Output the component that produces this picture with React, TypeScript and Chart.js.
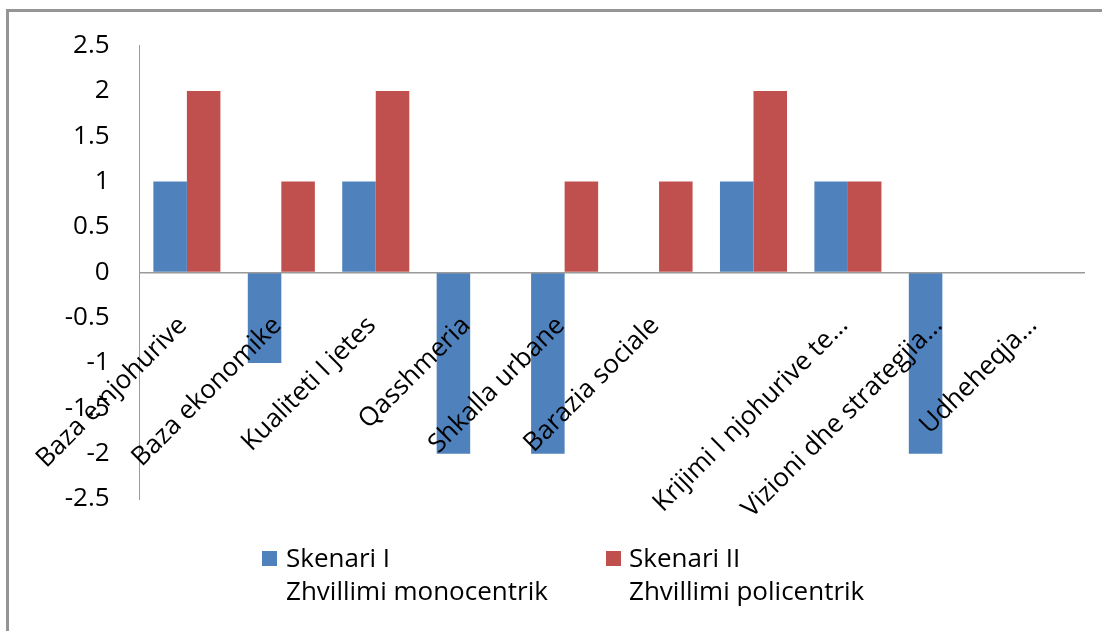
import React, { useEffect, useRef } from 'react';
import { Chart, registerables } from 'chart.js';

Chart.register(...registerables);

// ---- data ----
const categories: string[] = [
  'Baza e njohurive',
  'Baza ekonomike',
  'Kualiteti I jetes',
  'Qasshmeria',
  'Shkalla urbane',
  'Barazia sociale',
  '',
  'Krijimi I njohurive te…',
  'Vizioni dhe strategjia…',
  'Udheheqja…',
];
const skenariI: number[] = [1, -1, 1, -2, -2, 0, 1, 1, -2, 0];
const skenariII: number[] = [2, 1, 2, 0, 1, 1, 2, 1, 0, 0];
const seriesNames: string[][] = [
  ['Skenari I', 'Zhvillimi monocentrik'],
  ['Skenari II', 'Zhvillimi policentrik'],
];
const yMin = -2.5;
const yMax = 2.5;
const yStep = 0.5;

// ---- styles ----
const BLUE = '#4F81BD';
const RED = '#C0504D';
const FONT = '"Open Sans", "Noto Sans", sans-serif';
const AXIS_COLOR = '#9a9a9a';

export default function App() {
  const canvasRef = useRef<HTMLCanvasElement | null>(null);

  useEffect(() => {
    const canvas = canvasRef.current;
    if (!canvas) return;
    const chart = new Chart(canvas, {
      type: 'bar',
      data: {
        labels: categories,
        datasets: [
          {
            label: seriesNames[0].join(' '),
            data: skenariI,
            backgroundColor: BLUE,
            borderWidth: 0,
            categoryPercentage: 0.71,
            barPercentage: 1.0,
          },
          {
            label: seriesNames[1].join(' '),
            data: skenariII,
            backgroundColor: RED,
            borderWidth: 0,
            categoryPercentage: 0.71,
            barPercentage: 1.0,
          },
        ],
      },
      options: {
        responsive: false,
        animation: false,
        devicePixelRatio: 1,
        layout: { padding: { left: 0, top: 42, right: 18, bottom: 132 } },
        plugins: {
          legend: { display: false },
          tooltip: { enabled: false },
          title: { display: false },
        },
        scales: {
          y: {
            min: yMin,
            max: yMax,
            afterFit: (s: any) => {
              s.width = 138;
            },
            grid: { display: true, color: 'rgba(0,0,0,0)', drawTicks: false },
            border: { display: true, color: AXIS_COLOR, width: 1 },
            ticks: {
              stepSize: yStep,
              padding: 30,
              color: '#000',
              font: { family: FONT, size: 26 },
              callback: (v: any) => String(Number(v)),
            },
          },
          x: {
            type: 'category',
            position: { y: 0 } as any,
            grid: { display: true, color: 'rgba(0,0,0,0)', drawTicks: false, z: -1 },
            border: { display: true, color: AXIS_COLOR, width: 1.5, z: 1 },
            ticks: {
              z: 2,
              autoSkip: false,
              minRotation: 45,
              maxRotation: 45,
              padding: 38,
              labelOffset: -4,
              color: '#000',
              font: { family: FONT, size: 26 },
            },
          },
        },
      } as any,
    });
    let alive = true;
    if ((document as any).fonts && (document as any).fonts.load) {
      Promise.all([
        (document as any).fonts.load('26px "Open Sans"'),
      ]).then(() => {
        if (alive) chart.update();
      }).catch(() => {});
    }
    return () => {
      alive = false;
      chart.destroy();
    };
  }, []);

  const legendText: React.CSSProperties = {
    position: 'absolute',
    fontFamily: FONT,
    fontSize: 26,
    lineHeight: '33px',
    color: '#000',
    whiteSpace: 'nowrap',
  };

  return (
    <div
      style={{
        position: 'fixed',
        left: 0,
        top: 0,
        width: 1102,
        height: 631,
        overflow: 'hidden',
        background: '#fff',
      }}
    >
      <div
        style={{
          position: 'absolute',
          left: 6,
          top: 9,
          width: 1200,
          height: 700,
          borderLeft: '3px solid #959595',
          borderTop: '3px solid #959595',
          boxSizing: 'border-box',
        }}
      />
      <canvas
        ref={canvasRef}
        width={1102}
        height={631}
        style={{ position: 'absolute', left: 0, top: 0, width: 1102, height: 631, display: 'block' }}
      />
      <div style={{ position: 'absolute', left: 262, top: 551, width: 15, height: 15, background: BLUE }} />
      <div style={{ ...legendText, left: 286, top: 541 }}>
        {seriesNames[0][0]}
        <br />
        {seriesNames[0][1]}
      </div>
      <div style={{ position: 'absolute', left: 606, top: 551, width: 15, height: 15, background: RED }} />
      <div style={{ ...legendText, left: 629, top: 541 }}>
        {seriesNames[1][0]}
        <br />
        {seriesNames[1][1]}
      </div>
    </div>
  );
}
